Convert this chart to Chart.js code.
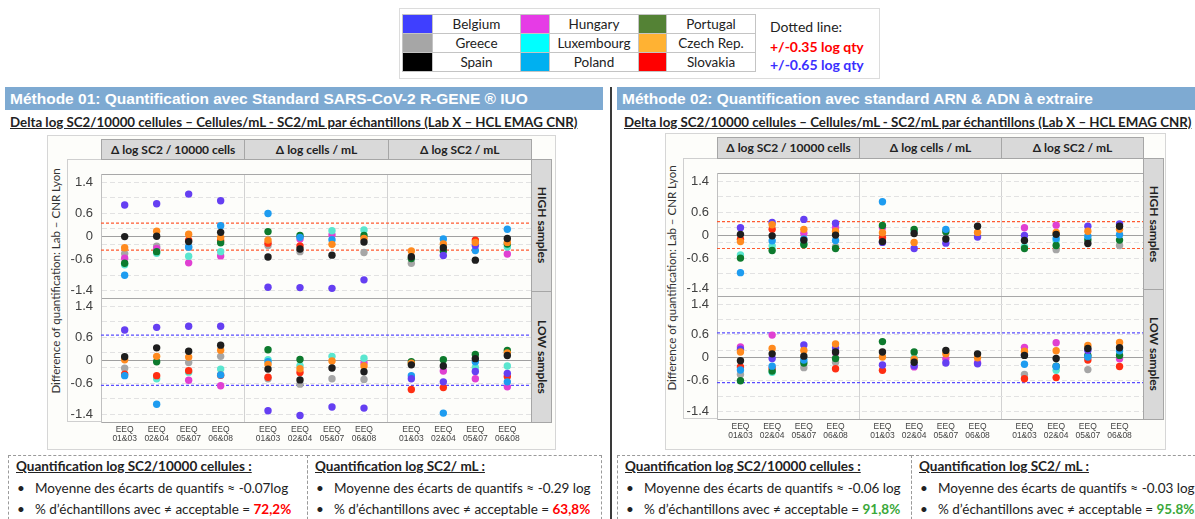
<!DOCTYPE html>
<html><head><meta charset="utf-8">
<script src="https://cdn.jsdelivr.net/npm/chart.js@4.4.1/dist/chart.umd.min.js"></script>
<style>
body{margin:0;background:#fff;font-family:Lato,'Open Sans',sans-serif;color:#222;}
#root{position:relative;width:1195px;height:519px;overflow:hidden;background:#fff;}
.a{position:absolute;box-sizing:border-box;}
.bar{background:#7EAAD2;color:#fff;font:bold 15.5px 'Liberation Sans',Arial,sans-serif;padding-left:5px;line-height:23px;height:23px;white-space:nowrap;}
.sub{font-weight:bold;font-size:13.3px;text-decoration:underline;white-space:nowrap;}
.box{border:1px solid #d6d6d6;background:#fdfdfa;}
.hdr{background:#d9d9d9;border:1px solid #a6a6a6;font-weight:bold;font-size:12px;text-align:center;white-space:nowrap;}
.strip{background:#d9d9d9;border:1px solid #a6a6a6;font-weight:bold;font-size:12px;}
.strip span{position:absolute;left:50%;top:50%;transform:translate(-50%,-50%) rotate(90deg);white-space:nowrap;}
.ytitle{font-size:11.5px;color:#333;white-space:nowrap;transform:translate(-50%,-50%) rotate(-90deg);}
.ybox{border:1px solid #cfcfcf;border-right:none;}
.tb{border:1px dashed #9a9a9a;}
.tt{font-weight:bold;text-decoration:underline;font-size:13.5px;white-space:nowrap;}
.bl{font-size:13.5px;white-space:nowrap;}
.bl .dot{position:absolute;left:0;top:0;}
.bl .tx{position:absolute;left:18px;top:0;}
table.lg{border-collapse:collapse;font-size:13.5px;}
table.lg td{border:1px solid #c4c4c4;height:18px;padding:0;text-align:center;}
</style></head>
<body><div id="root"></div>
<script>
// ---------- DATA ----------
const countries = ['Belgium','Greece','Spain','Hungary','Luxembourg','Poland','Portugal','Czech Rep.','Slovakia'];
const sampleLabels = ['01&03','02&04','05&07','06&08'];
const facetTitles = ['Δ log SC2 / 10000 cells','Δ log cells / mL','Δ log SC2 / mL'];
const rowTitles = ['HIGH samples','LOW samples'];
const highTol = 0.35;
const lowTol = 0.65;
const yLabelTicks = [1.4, 0.6, 0, -0.6, -1.4];
const yGridTicks = [1.4, 1.0, 0.6, 0.2, -0.2, -0.6, -1.0, -1.4];

// values per facet (SC2/10000 cells x4, cells/mL x4, SC2/mL x4)
// Method 01 - HIGH
const m1High_Belgium    = [0.82, 0.85, 1.10, 0.93, -1.31, -1.32, -1.34, -1.12, null, -0.49, -0.23, null];
const m1High_Greece     = [-0.44, -0.25, -0.28, null, -0.23, -0.39, null, -0.41, -0.69, null, null, null];
const m1High_Spain      = [0.00, 0.01, -0.13, 0.11, -0.53, -0.32, -0.48, -0.14, -0.52, -0.29, -0.61, -0.05];
const m1High_Hungary    = [-0.56, -0.31, -0.68, -0.50, null, -0.06, 0.04, null, null, null, null, -0.45];
const m1High_Luxembourg = [-0.73, -0.43, -0.51, -0.39, null, null, 0.15, 0.17, null, null, null, -0.27];
const m1High_Poland     = [-1.00, null, -0.27, 0.28, 0.60, -0.02, -0.08, null, null, -0.06, -0.36, 0.19];
const m1High_Portugal   = [-0.69, -0.39, null, -0.16, 0.13, 0.03, null, 0.03, -0.57, -0.37, null, -0.19];
const m1High_Czech      = [-0.29, 0.14, 0.06, -0.02, -0.09, null, -0.20, -0.05, -0.37, -0.19, -0.15, -0.15];
const m1High_Slovakia   = [null, null, -0.09, -0.10, -0.17, -0.24, null, null, null, null, -0.09, null];
// Method 01 - LOW
const m1Low_Belgium    = [0.78, 0.85, 0.88, 0.88, -1.31, -1.43, -1.21, -1.24, -0.48, -0.56, -0.29, -0.34];
const m1Low_Greece     = [-0.21, null, -0.06, 0.10, -0.48, -0.62, -0.48, -0.50, null, null, null, null];
const m1Low_Spain      = [0.09, 0.32, 0.23, 0.39, -0.23, -0.51, -0.20, -0.30, -0.12, -0.15, 0.04, 0.12];
const m1Low_Hungary    = [null, null, -0.52, -0.66, null, null, null, -0.07, null, -0.28, -0.48, -0.69];
const m1Low_Luxembourg = [null, -0.48, -0.31, -0.23, 0.01, -0.14, 0.10, 0.05, null, null, -0.19, -0.15];
const m1Low_Poland     = [-0.40, -1.14, null, -0.38, -0.04, null, null, null, -0.40, -1.37, -0.04, -0.56];
const m1Low_Portugal   = [null, -0.04, null, null, 0.27, 0.02, null, null, -0.04, 0.01, 0.15, 0.25];
const m1Low_Czech      = [0.01, 0.10, 0.08, 0.26, -0.11, -0.22, -0.02, -0.15, -0.08, null, null, 0.19];
const m1Low_Slovakia   = [-0.36, -0.40, -0.27, -0.39, -0.44, -0.32, null, null, -0.76, -0.71, null, -0.42];
// Method 02 - HIGH
const m2High_Belgium    = [0.19, 0.33, 0.41, 0.31, -0.19, -0.35, -0.21, -0.05, -0.01, null, 0.23, 0.29];
const m2High_Greece     = [null, null, null, -0.30, null, null, null, null, null, -0.38, null, -0.27];
const m2High_Spain      = [0.02, -0.02, -0.13, 0.00, -0.17, 0.04, -0.10, 0.23, -0.14, 0.02, -0.22, 0.23];
const m2High_Hungary    = [null, null, 0.05, 0.19, 0.20, null, null, null, 0.19, 0.26, null, null];
const m2High_Luxembourg = [-0.52, -0.28, -0.22, null, null, 0.10, null, null, -0.30, -0.15, null, null];
const m2High_Poland     = [-0.98, -0.15, -0.10, -0.14, 0.87, null, 0.15, null, null, -0.09, -0.03, 0.01];
const m2High_Portugal   = [-0.60, -0.40, -0.25, -0.35, 0.25, 0.15, 0.09, null, -0.35, -0.27, -0.12, -0.13];
const m2High_Czech      = [-0.17, 0.27, 0.15, 0.10, 0.06, -0.19, null, 0.07, null, 0.07, 0.10, 0.15];
const m2High_Slovakia   = [-0.11, 0.15, null, null, -0.07, null, null, null, null, null, null, null];
// Method 02 - LOW
const m2Low_Belgium    = [0.22, -0.02, 0.33, 0.25, -0.19, -0.21, -0.14, -0.16, 0.08, null, 0.19, null];
const m2Low_Greece     = [-0.44, null, -0.26, -0.12, null, null, null, null, -0.44, null, -0.31, null];
const m2Low_Spain      = [-0.08, 0.10, 0.04, 0.15, 0.15, -0.12, 0.19, 0.10, 0.06, -0.02, 0.24, 0.26];
const m2Low_Hungary    = [0.28, 0.59, null, 0.12, null, -0.24, -0.03, -0.13, 0.27, 0.39, null, -0.03];
const m2Low_Luxembourg = [null, -0.38, null, null, null, 0.00, null, null, null, -0.33, null, null];
const m2Low_Poland     = [-0.32, -0.22, -0.06, null, null, null, null, null, -0.17, -0.23, 0.02, 0.18];
const m2Low_Portugal   = [-0.60, -0.35, -0.14, -0.02, 0.42, 0.15, null, null, null, -0.22, 0.06, 0.06];
const m2Low_Czech      = [0.15, 0.24, 0.19, 0.36, 0.02, -0.04, 0.10, 0.00, 0.17, 0.18, 0.32, 0.40];
const m2Low_Slovakia   = [-0.24, -0.28, null, -0.29, -0.33, null, null, null, -0.55, -0.52, -0.06, -0.23];

// ---------- STYLE ----------
const pointColors = {'Belgium':'#653ff2','Greece':'#a6a6a6','Spain':'#1e1e1e','Hungary':'#e040d2','Luxembourg':'#5ae6cf','Poland':'#1e9cf0','Portugal':'#0d7a2d','Czech Rep.':'#ff8a1e','Slovakia':'#ff2e12'};
const legendColors = {'Belgium':'#3f3fff','Greece':'#a6a6a6','Spain':'#000000','Hungary':'#e63be6','Luxembourg':'#00ffff','Poland':'#00b0f0','Portugal':'#548235','Czech Rep.':'#ffb233','Slovakia':'#ff0000'};
const drawOrder = ['Spain','Czech Rep.','Belgium','Poland','Portugal','Slovakia','Luxembourg','Hungary','Greece'];

const m1 = {high:{'Belgium':m1High_Belgium,'Greece':m1High_Greece,'Spain':m1High_Spain,'Hungary':m1High_Hungary,'Luxembourg':m1High_Luxembourg,'Poland':m1High_Poland,'Portugal':m1High_Portugal,'Czech Rep.':m1High_Czech,'Slovakia':m1High_Slovakia},
            low:{'Belgium':m1Low_Belgium,'Greece':m1Low_Greece,'Spain':m1Low_Spain,'Hungary':m1Low_Hungary,'Luxembourg':m1Low_Luxembourg,'Poland':m1Low_Poland,'Portugal':m1Low_Portugal,'Czech Rep.':m1Low_Czech,'Slovakia':m1Low_Slovakia}};
const m2 = {high:{'Belgium':m2High_Belgium,'Greece':m2High_Greece,'Spain':m2High_Spain,'Hungary':m2High_Hungary,'Luxembourg':m2High_Luxembourg,'Poland':m2High_Poland,'Portugal':m2High_Portugal,'Czech Rep.':m2High_Czech,'Slovakia':m2High_Slovakia},
            low:{'Belgium':m2Low_Belgium,'Greece':m2Low_Greece,'Spain':m2Low_Spain,'Hungary':m2Low_Hungary,'Luxembourg':m2Low_Luxembourg,'Poland':m2Low_Poland,'Portugal':m2Low_Portugal,'Czech Rep.':m2Low_Czech,'Slovakia':m2Low_Slovakia}};

const root = document.getElementById('root');
function el(cls, css, html){const d=document.createElement('div');d.className='a '+(cls||'');Object.assign(d.style,css);if(html!=null)d.innerHTML=html;root.appendChild(d);return d;}
const px = v => v + 'px';

// ---------- LEGEND ----------
el('', {left:px(399),top:px(8),width:px(481),height:px(71),border:'1px solid #dcdcdc'});
(function(){
  const t = document.createElement('table'); t.className='lg';
  const wrap = el('', {left:px(402),top:px(14)}); wrap.appendChild(t);
  const cols = [[countries[0],countries[1],countries[2]],[countries[3],countries[4],countries[5]],[countries[6],countries[7],countries[8]]];
  const widths=[[29,87],[28,88],[27,88]];
  for(let r=0;r<3;r++){
    const tr=document.createElement('tr');
    for(let c=0;c<3;c++){
      const n=cols[c][r];
      const s=document.createElement('td');s.style.width=px(widths[c][0]);s.style.background=legendColors[n];
      const l=document.createElement('td');l.style.width=px(widths[c][1]);l.textContent=n;l.style.background='#fff';
      tr.appendChild(s);tr.appendChild(l);
    }
    t.appendChild(tr);
  }
})();
el('', {left:px(770),top:px(18),fontSize:'14px',whiteSpace:'nowrap'}, 'Dotted line:');
el('', {left:px(770),top:px(38),fontSize:'14px',fontWeight:'bold',color:'#ff0000',whiteSpace:'nowrap'}, '+/-'+highTol+' log qty');
el('', {left:px(770),top:px(56),fontSize:'14px',fontWeight:'bold',color:'#3a2fff',whiteSpace:'nowrap'}, '+/-'+lowTol+' log qty');

// divider
el('', {left:px(610),top:px(87),width:px(2),height:px(432),background:'#3a3a3a'});

// ---------- PANELS ----------
const W = 4.48;
function makePanel(cfg, data){
  el('bar', {left:px(cfg.barL),top:px(87),width:px(cfg.barW)}, cfg.title);
  el('sub', {left:px(cfg.subL),top:px(114)}, 'Delta log SC2/10000 cellules – Cellules/mL - SC2/mL par échantillons (Lab X – HCL EMAG CNR)');
  el('box', {left:px(cfg.boxL),top:px(cfg.boxT),width:px(cfg.boxW),height:px(cfg.boxH)});
  el('ybox', {left:px(cfg.cvL),top:px(cfg.areaT),width:px(34),height:px(cfg.areaH)});
  el('ytitle', {left:px(cfg.ytX),top:px(cfg.ytY)}, 'Difference of quantification: Lab – CNR Lyon');
  const areaL = cfg.cvL + 34, fw = cfg.areaW/3;
  facetTitles.forEach((t,i)=>el('hdr',{left:px(areaL+i*fw),top:px(cfg.hdrT),width:px(fw+1),height:px(cfg.areaT-cfg.hdrT+1),lineHeight:px(cfg.areaT-cfg.hdrT-1)},t));
  rowTitles.forEach((t,i)=>el('strip',{left:px(areaL+cfg.areaW),top:px(cfg.areaT+i*cfg.areaH/2),width:px(21),height:px(cfg.areaH/2+1)},'<span>'+t+'</span>'));
  const cv = document.createElement('canvas');
  cv.width = cfg.areaW + 34; cv.height = cfg.areaH + 30;
  const holder = el('', {left:px(cfg.cvL),top:px(cfg.areaT),width:px(cv.width),height:px(cv.height)});
  holder.appendChild(cv);

  const xs=[], xTicks=[], labelMap={}, sepSet=new Set();
  for(let f=0;f<3;f++) for(let s=0;s<4;s++){const x=f*W+W/2+s-1.5; xs.push(x); xTicks.push(x); labelMap[x.toFixed(3)]=['EEQ',sampleLabels[s]];}
  [W,2*W].forEach(v=>{xTicks.push(v);sepSet.add(v.toFixed(3));});
  xTicks.sort((a,b)=>a-b);

  const datasets=[];
  drawOrder.forEach(n=>{
    [['yH',data.high[n]],['yL',data.low[n]]].forEach(([ax,arr])=>{
      datasets.push({type:'scatter',label:n,yAxisID:ax,data:arr.map((v,i)=>v==null?null:{x:xs[i],y:v}).filter(Boolean),
        backgroundColor:pointColors[n],borderWidth:0,pointRadius:3.7,pointHoverRadius:3.7,order:1});
    });
  });
  [['yH',highTol,'#ff5a30'],['yL',lowTol,'#5a4dff']].forEach(([ax,tol,col])=>{
    [1,-1].forEach(sg=>datasets.push({type:'line',yAxisID:ax,data:[{x:0,y:sg*tol},{x:3*W,y:sg*tol}],borderColor:col,borderWidth:1.2,borderDash:[3,2],pointRadius:0,order:5,fill:false}));
  });

  const yAxis = () => ({
    type:'linear',position:'left',stack:'rows',stackWeight:1,min:-1.6,max:1.6,offset:false,
    afterBuildTicks:s=>{s.ticks=[-1.6,...yGridTicks,0,1.6].sort((a,b)=>a-b).map(v=>({value:v}));},
    afterFit:s=>{s.width=34;},
    ticks:{autoSkip:false,padding:8,color:'#404040',font:{size:13},callback:v=>yLabelTicks.some(t=>Math.abs(t-v)<1e-6)?String(v):''},
    grid:{drawTicks:false,color:c=>{const v=c.tick?c.tick.value:null;if(v===null)return '#c0c0c0';if(Math.abs(v)<1e-6)return '#a0a0a0';if(Math.abs(Math.abs(v)-1.6)<1e-6)return '#a8a8a8';return '#e2e2e2';}},
    border:{display:true,color:'#c0c0c0',dash:c=>{const v=c.tick?c.tick.value:null;if(v===null||Math.abs(v)<1e-6||Math.abs(Math.abs(v)-1.6)<1e-6)return [];return [5,3];}}
  });
  new Chart(cv,{
    type:'scatter',
    data:{datasets},
    options:{
      responsive:false,animation:false,devicePixelRatio:1,
      layout:{padding:0,autoPadding:false},
      plugins:{legend:{display:false},tooltip:{enabled:false}},
      scales:{
        x:{type:'linear',min:0,max:3*W,position:'bottom',
          afterBuildTicks:s=>{s.ticks=xTicks.map(v=>({value:v}));},
          afterFit:s=>{s.height=30;},
          ticks:{autoSkip:false,maxRotation:0,minRotation:0,padding:3,color:'#444',font:{size:8.5,lineHeight:1.1},callback:v=>labelMap[v.toFixed(3)]||''},
          grid:{drawTicks:false,color:c=>(c.tick&&sepSet.has(c.tick.value.toFixed(3)))?'#d2d2d2':'rgba(0,0,0,0)'},
          border:{display:false}},
        yL:yAxis(),
        yH:yAxis()
      }
    }
  });
}

makePanel({title:'Méthode 01: Quantification avec Standard SARS-CoV-2 R-GENE ® IUO',barL:5,barW:598,subL:10,
  boxL:47,boxT:135,boxW:509,boxH:315,cvL:67,areaT:159,areaH:263,areaW:430,hdrT:139,ytX:55,ytY:281}, m1);
makePanel({title:'Méthode 02: Quantification avec standard ARN &amp; ADN à extraire',barL:617,barW:578,subL:624,
  boxL:665,boxT:133,boxW:501,boxH:317,cvL:683,areaT:158,areaH:261,areaW:426,hdrT:137,ytX:671,ytY:278}, m2);

// ---------- TEXT BOXES ----------
function textBox(l,w,title,mean,pct,col){
  el('tb',{left:px(l),top:px(455),width:px(w),height:px(70)});
  el('tt',{left:px(l+8),top:px(458)},title);
  el('bl',{left:px(l+9),top:px(480)},'<span class="dot">•</span><span class="tx">Moyenne des écarts de quantifs ≈ '+mean+'</span>');
  el('bl',{left:px(l+9),top:px(501)},'<span class="dot">•</span><span class="tx">% d’échantillons avec ≠ acceptable = <b style="color:'+col+'">'+pct+'</b></span>');
}
textBox(8,300,'Quantification log SC2/10000 cellules :','-0.07log','72,2%','#ff0000');
textBox(307,295,'Quantification log SC2/ mL :','-0.29 log','63,8%','#ff0000');
textBox(617,295,'Quantification log SC2/10000 cellules :','-0.06 log','91,8%','#3aa83a');
textBox(911,290,'Quantification log SC2/ mL :','-0.03 log','95.8%','#3aa83a');
</script>
</body></html>
